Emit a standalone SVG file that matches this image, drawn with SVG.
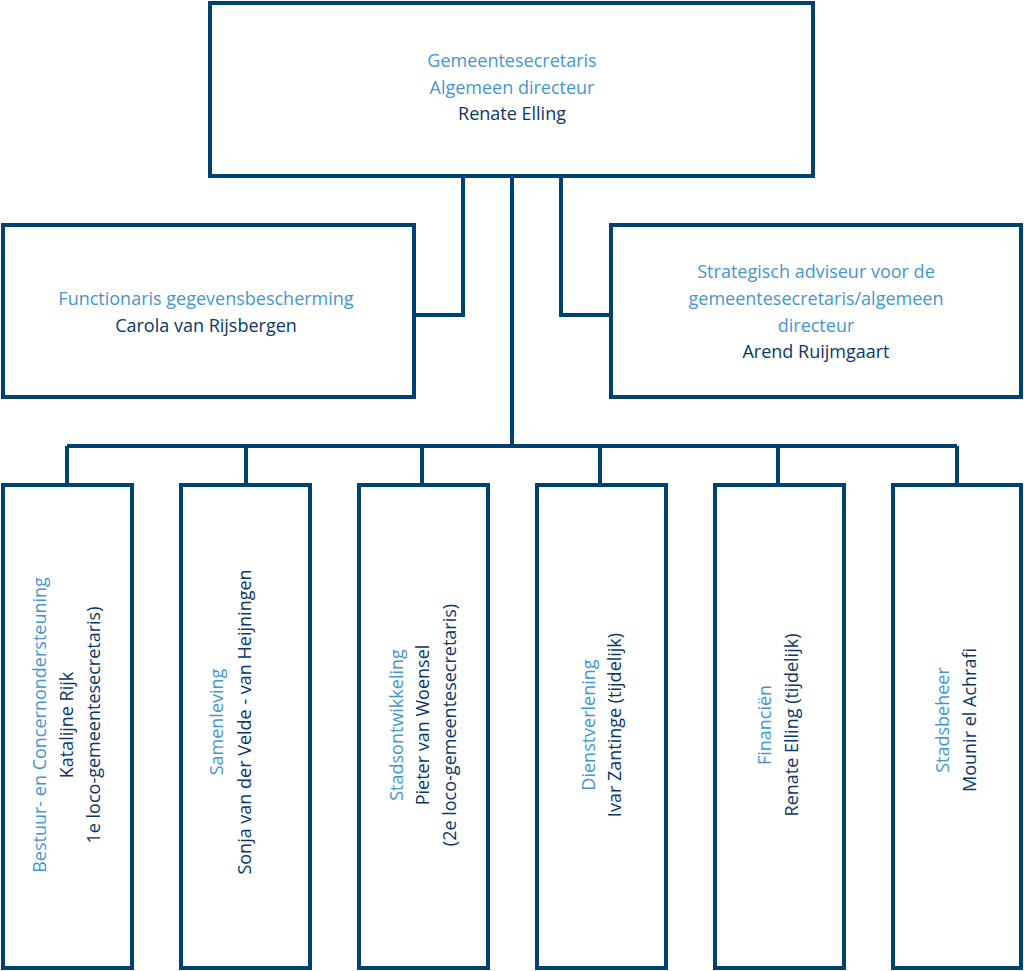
<svg xmlns="http://www.w3.org/2000/svg" width="1024" height="971" viewBox="0 0 1024 971">
<style>
.b{fill:#fff;stroke:#004174;stroke-width:4}
.c{stroke:#004174;stroke-width:4;fill:none}
text{font-family:"Open Sans","Liberation Sans",sans-serif;font-size:18px;text-anchor:middle}
.l{fill:#4596d0}
.d{fill:#0a3767}
</style>
<rect width="1024" height="971" fill="#fff"/>
<g id="connectors">
<path class="c" d="M463 176V315H414M561 176V315H610M512 176V446M67 446H957M67 446V484M246 446V484M422 446V484M600 446V484M778 446V484M957 446V484"/>
</g>
<g id="top"><rect class="b" x="210" y="3" width="603" height="173"/>
<text class="l" x="512" y="67">Gemeentesecretaris</text><text class="l" x="512" y="94">Algemeen directeur</text><text class="d" x="512" y="120">Renate Elling</text></g>
<g id="fg"><rect class="b" x="3" y="225" width="411" height="172"/>
<text class="l" x="206" y="305">Functionaris gegevensbescherming</text><text class="d" x="206" y="332">Carola van Rijsbergen</text></g>
<g id="sa"><rect class="b" x="611" y="225" width="410" height="172"/>
<text class="l" x="816" y="278">Strategisch adviseur voor de</text><text class="l" x="816" y="305">gemeentesecretaris/algemeen</text><text class="l" x="816" y="332">directeur</text><text class="d" x="816" y="358">Arend Ruijmgaart</text></g>
<g id="n1"><rect class="b" x="3" y="485" width="129" height="483"/>
<g transform="translate(67,725) rotate(-90)"><text class="l" y="-21">Bestuur- en Concernondersteuning</text><text class="d" y="6">Katalijne Rijk</text><text class="d" y="33">1e loco-gemeentesecretaris)</text></g></g>
<g id="n2"><rect class="b" x="181" y="485" width="129" height="483"/>
<g transform="translate(245,722) rotate(-90)"><text class="l" y="-22">Samenleving</text><text class="d" y="6">Sonja van der Velde - van Heijningen</text></g></g>
<g id="n3"><rect class="b" x="359" y="485" width="129" height="483"/>
<g transform="translate(423,725) rotate(-90)"><text class="l" y="-20">Stadsontwikkeling</text><text class="d" y="6">Pieter van Woensel</text><text class="d" y="33">(2e loco-gemeentesecretaris)</text></g></g>
<g id="n4"><rect class="b" x="537" y="485" width="129" height="483"/>
<g transform="translate(601,725) rotate(-90)"><text class="l" y="-6">Dienstverlening</text><text class="d" y="20">Ivar Zantinge (tijdelijk)</text></g></g>
<g id="n5"><rect class="b" x="715" y="485" width="129" height="483"/>
<g transform="translate(779,725) rotate(-90)"><text class="l" y="-8">Financiën</text><text class="d" y="19">Renate Elling (tijdelijk)</text></g></g>
<g id="n6"><rect class="b" x="893" y="485" width="128" height="483"/>
<g transform="translate(957,720) rotate(-90)"><text class="l" y="-8">Stadsbeheer</text><text class="d" y="19">Mounir el Achrafi</text></g></g>
</svg>
